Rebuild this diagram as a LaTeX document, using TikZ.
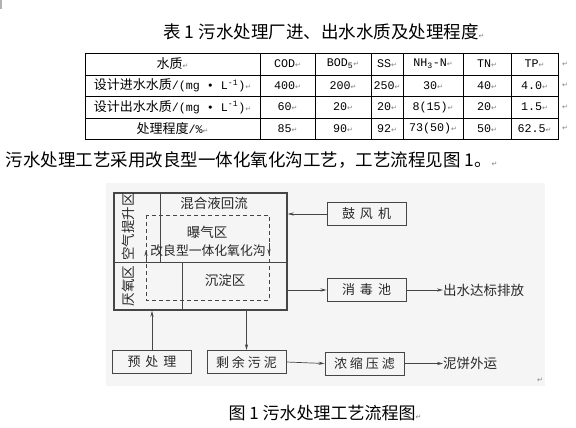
\documentclass[tikz,border=0pt]{standalone}
\usepackage{fontspec}
\setmainfont{Noto Sans CJK SC}
\newfontfamily\monof{Liberation Mono}[Scale=0.9]
\newfontfamily\retfont{DejaVu Sans}
\usetikzlibrary{arrows.meta,positioning}
\newcommand\retm{{\retfont\fontsize{7}{7}\selectfont\color{gray}↵}}
\newcommand\gapc{\hspace{5pt}}

\tikzset{
  flowbox/.style={draw=line, line width=0.9pt, minimum width=79pt, minimum height=23pt,
    inner sep=0pt, text=ink, font=\fontsize{13}{13}\selectfont},
  flowtxt/.style={text=ink, inner sep=0pt, font=\fontsize{13.5}{13.5}\selectfont},
  flowarr/.style={draw=line, line width=0.7pt, -{Stealth[length=6pt,width=3.2pt]}},
  cell/.style={inner sep=0pt, font=\fontsize{13}{13}\selectfont},
}

\begin{document}
\begin{tikzpicture}[x=1pt, y=-1pt]
  \definecolor{line}{RGB}{70,70,70}
  \definecolor{ink}{RGB}{40,40,40}
  \useasboundingbox (0,0) rectangle (576,428);
  \fill[gray!60] (0,0) rectangle (1.5,9);

  % table
  \node[font=\fontsize{17.5}{17.5}\selectfont] (title) at (324,32) {表 1 污水处理厂进、出水水质及处理程度\retm};
  \draw[line width=0.6pt] (85,53) rectangle (558,139);
  \foreach \yy in {75,96,118} \draw[line width=0.6pt] (85,\yy) -- (558,\yy);
  \foreach \xx in {260,315,371,403,463,511} \draw[line width=0.6pt] (\xx,53) -- (\xx,139);
  \def\colx{{172.5,287.5,343,387,433,487,534.5}}
  \def\rowy{{64,85.5,107,128.5}}
  \foreach \vals [count=\rowi from 0] in {
      {水质,\monof COD,\monof BOD\textsubscript{5},\monof SS,\monof NH\textsubscript{3}-N,\monof TN,\monof TP},
      {设计进水水质{\monof/(mg • L\textsuperscript{-1})},\monof 400,\monof 200,\monof 250,\monof 30,\monof 40,\monof 4.0},
      {设计出水水质{\monof/(mg • L\textsuperscript{-1})},\monof 60,\monof 20,\monof 20,\monof 8(15),\monof 20,\monof 1.5},
      {处理程度{\monof/\%},\monof 85,\monof 90,\monof 92,\monof 73(50),\monof 50,\monof 62.5}} {
    \pgfmathsetmacro{\cy}{\rowy[\rowi]}
    \foreach \v [count=\colj from 0] in \vals {
      \pgfmathsetmacro{\cx}{\colx[\colj]}
      \node[cell] (t-\rowi-\colj) at (\cx,\cy) {\v\retm};
    }
    \node[cell] (t-\rowi-end) at (565,\cy) {\retm};
  }

  \node[anchor=west, font=\fontsize{17.5}{17.5}\selectfont] (para) at (2,160)
       {污水处理工艺采用改良型一体化氧化沟工艺，工艺流程见图 1。\retm};

  % flow chart (scanned figure)
  \fill[black!4] (106,183) rectangle (545,386);
  \node[draw=line, line width=1.6pt, minimum width=173pt, minimum height=117pt, inner sep=0pt]
       (ditch) at (200.5,251.5) {};
  \draw[line, line width=0.8pt] (114,262) -- (287,262);
  \draw[line, line width=0.8pt] (160,193) -- (160,262);
  \draw[line, line width=0.8pt] (182,262) -- (182,310);
  \draw[line, line width=0.8pt, dash pattern=on 4pt off 3pt] (146,215) rectangle (269,300);
  \draw[flowarr] (146,262) -- (146,250);
  \draw[flowarr] (269,243) -- (269,255);

  \node[flowtxt, rotate=90] (lift) at (128,227) {空气提升区};
  \node[flowtxt, rotate=90] (anox) at (128,286) {厌氧区};
  \node[flowtxt] (mix) at (214,203) {混合液回流};
  \node[flowtxt] (aer) at (207,232) {曝气区};
  \node[flowtxt, font=\fontsize{12.8}{12.8}\selectfont] (name) at (208,251) {改良型一体化氧化沟};
  \node[flowtxt] (sett) at (225,280) {沉淀区};

  \node[flowbox] (blower) at (366.5,214) {鼓\gapc 风\gapc 机};
  \node[flowbox] (disinf) at (366.5,290) {消\gapc 毒\gapc 池};
  \node[flowbox] (pre) at (152,362) {预\gapc 处\gapc 理};
  \node[flowbox] (sludge) at (246.5,362) {剩\hspace{3pt}余\hspace{3pt}污\hspace{3pt}泥};
  \node[flowbox] (press) at (364.5,363.5) {浓\hspace{3pt}缩\hspace{3pt}压\hspace{3pt}滤};
  \node[flowtxt, anchor=west] (outlet) at (443,290) {出水达标排放};
  \node[flowtxt, anchor=west] (cake) at (443,363.5) {泥饼外运};

  \draw[flowarr] (blower.west) -- (blower.west -| ditch.east);
  \draw[flowarr] (disinf.west -| ditch.east) -- (disinf.west);
  \draw[flowarr] (disinf.east) -- (outlet.west);
  \draw[flowarr] (pre.north) -- (pre.north |- ditch.south);
  \draw[flowarr] (sludge.north |- ditch.south) -- (sludge.north);
  \draw[flowarr] (sludge.east) -- (press.west);
  \draw[flowarr] (press.east) -- (cake.west);
  \node[cell] (mark) at (540,380) {\retm};

  \node[font=\fontsize{17}{17}\selectfont] (cap) at (325,413) {图 1 污水处理工艺流程图\retm};
\end{tikzpicture}
\end{document}
